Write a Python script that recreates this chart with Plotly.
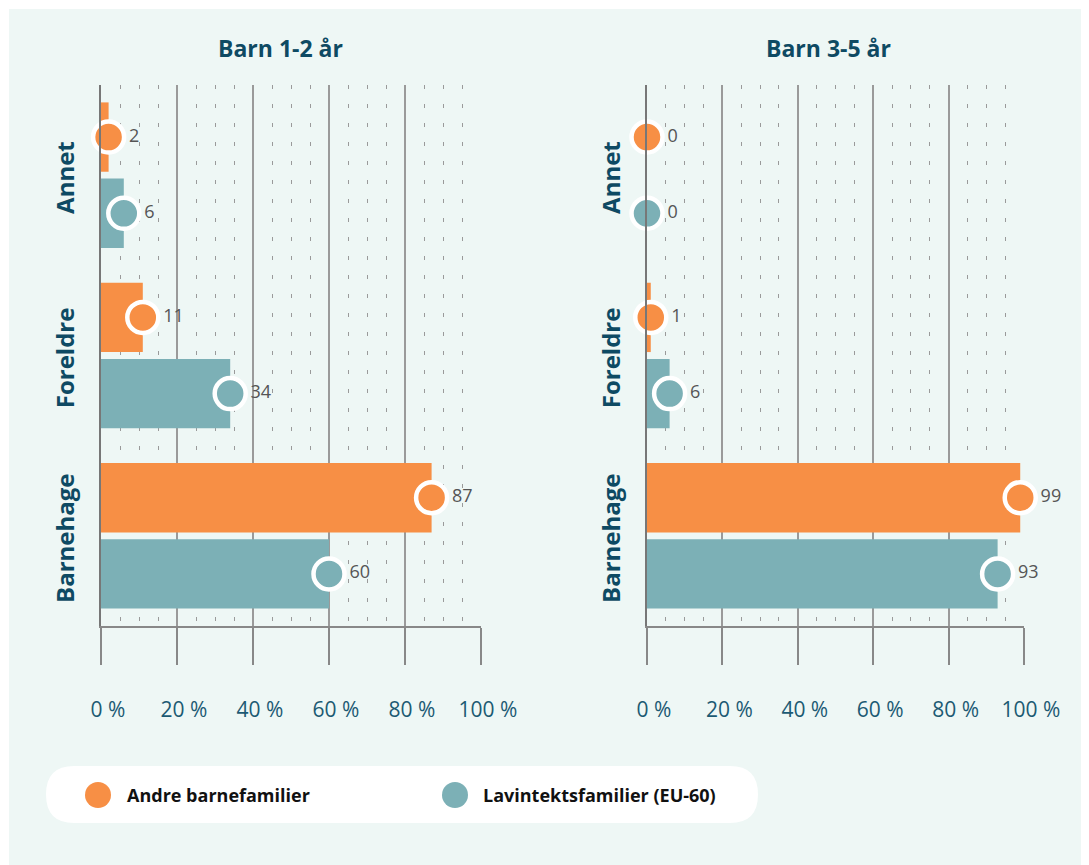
import plotly.graph_objects as go

categories = ["Barnehage", "Foreldre", "Annet"]
series_names = ["Andre barnefamilier", "Lavintektsfamilier (EU-60)"]
panel_titles = ["Barn 1-2 år", "Barn 3-5 år"]
andre_1_2 = [87, 11, 2]
lav_1_2 = [60, 34, 6]
andre_3_5 = [99, 1, 0]
lav_3_5 = [93, 6, 0]
x_ticks = [0, 20, 40, 60, 80, 100]
x_ticklabels = ["0 %", "20 %", "40 %", "60 %", "80 %", "100 %"]

ORANGE = "#f78f45"
TEAL = "#7cb0b6"
MINT = "#eef7f5"
DARK = "#0e4a63"
TICKC = "#1c5a73"
FONT = "Open Sans"

OFF = 8  # page body margin
W, H = 1089 - OFF, 865 - OFF
def px(x):
    return (x - OFF) / W
def py(y):
    return 1 - (y - OFF) / H

fig = go.Figure()

panels = [(andre_1_2, lav_1_2, "x", "y"), (andre_3_5, lav_3_5, "x2", "y2")]
for i, (andre, lav, xa, ya) in enumerate(panels):
    # teal first (bottom within group), orange second (top)
    for vals, color, name in [(lav, TEAL, series_names[1]), (andre, ORANGE, series_names[0])]:
        fig.add_trace(go.Bar(
            x=vals, y=categories, orientation="h", name=name,
            marker=dict(color=color, line=dict(width=0)),
            xaxis=xa, yaxis=ya, showlegend=False, hoverinfo="skip"))
    for vals, color, name in [(lav, TEAL, series_names[1]), (andre, ORANGE, series_names[0])]:
        fig.add_trace(go.Scatter(
            x=vals, y=categories, orientation="h", mode="markers+text", name=name,
            text=[str(v) for v in vals], textposition="middle right",
            textfont=dict(family=FONT, size=18, color="#555555"),
            marker=dict(color=color, size=31, line=dict(color="white", width=4.5)),
            xaxis=xa, yaxis=ya, showlegend=False, cliponaxis=False, hoverinfo="skip"))

ydom = [py(626), py(85)]
xdoms = [[px(101), px(481)], [px(647), px(1024)]]
title_centers = [280, 828]

common_x = dict(
    range=[0, 100], tickvals=x_ticks, ticktext=x_ticklabels,
    showgrid=True, gridcolor="#9a9a9a", gridwidth=1.5,
    ticks="outside", ticklen=37, tickcolor="#888888", tickwidth=1.5,
    ticklabelstandoff=27, ticklabelshift=7, automargin=False,
    tickfont=dict(family=FONT, size=21, color=TICKC),
    showline=True, linecolor="#888888", linewidth=2, mirror=False,
    zeroline=False, fixedrange=True,
    minor=dict(dtick=5, showgrid=True, gridcolor="#9a9a9a", gridwidth=1.2, griddash="4px,15px", ticks=""),
)
common_y = dict(
    categoryorder="array", categoryarray=categories, tickangle=-90,
    showgrid=False, ticks="", showline=True, linecolor="#777777", linewidth=2,
    tickfont=dict(family=FONT, size=24, color=DARK, weight="bold"),
    ticklabelstandoff=15, ticklabelshift=6, fixedrange=True, zeroline=False, automargin=False,
)

# legend drawn as pill with circles and labels
legend_items = [(series_names[0], ORANGE, 98, 125), (series_names[1], TEAL, 455, 481)]
leg_y = 795
r = 13
shapes = [
    dict(type="rect", xref="paper", yref="paper", x0=px(9), x1=1.0, y0=0, y1=py(9),
         fillcolor=MINT, line=dict(width=0), layer="below"),
    dict(type="path", xref="paper", yref="paper", layer="below",
         path=("M {a},{t} L {b},{t} Q {r},{t} {r},{m} Q {r},{bt} {b},{bt} "
               "L {a},{bt} Q {l},{bt} {l},{m} Q {l},{t} {a},{t} Z").format(
             l=px(46), a=px(74), b=px(730), r=px(758),
             t=py(766), bt=py(823), m=py(794.5)),
         fillcolor="white", line=dict(width=0)),
]
annotations = []
for name, color, cx, tx in legend_items:
    shapes.append(dict(type="circle", xref="paper", yref="paper",
                       x0=px(cx - r), x1=px(cx + r), y0=py(leg_y + r), y1=py(leg_y - r),
                       fillcolor=color, line=dict(width=0), layer="above"))
    annotations.append(dict(text="<b>%s</b>" % name, x=px(tx), y=py(leg_y), xref="paper", yref="paper",
                            showarrow=False, xanchor="left", yanchor="middle",
                            font=dict(family=FONT, size=18, color="#111111")))

for k in range(2):
    annotations.append(dict(text="<b>%s</b>" % panel_titles[k], x=px(title_centers[k]), y=py(48),
                            xref="paper", yref="paper", showarrow=False, xanchor="center", yanchor="middle",
                            font=dict(family=FONT, size=23, color=DARK)))

fig.update_layout(
    width=W, height=H,
    margin=dict(l=0, r=0, t=0, b=0, autoexpand=False),
    paper_bgcolor="white", plot_bgcolor="white",
    barmode="group", bargap=0.155, bargroupgap=0.09,
    scattermode="group", scattergap=0.155,
    xaxis=dict(domain=xdoms[0], anchor="y", **common_x),
    yaxis=dict(domain=ydom, anchor="x", **common_y),
    xaxis2=dict(domain=xdoms[1], anchor="y2", **common_x),
    yaxis2=dict(domain=ydom, anchor="x2", **common_y),
    showlegend=False,
    shapes=shapes,
    annotations=annotations,
)

fig.write_html("out.html")
